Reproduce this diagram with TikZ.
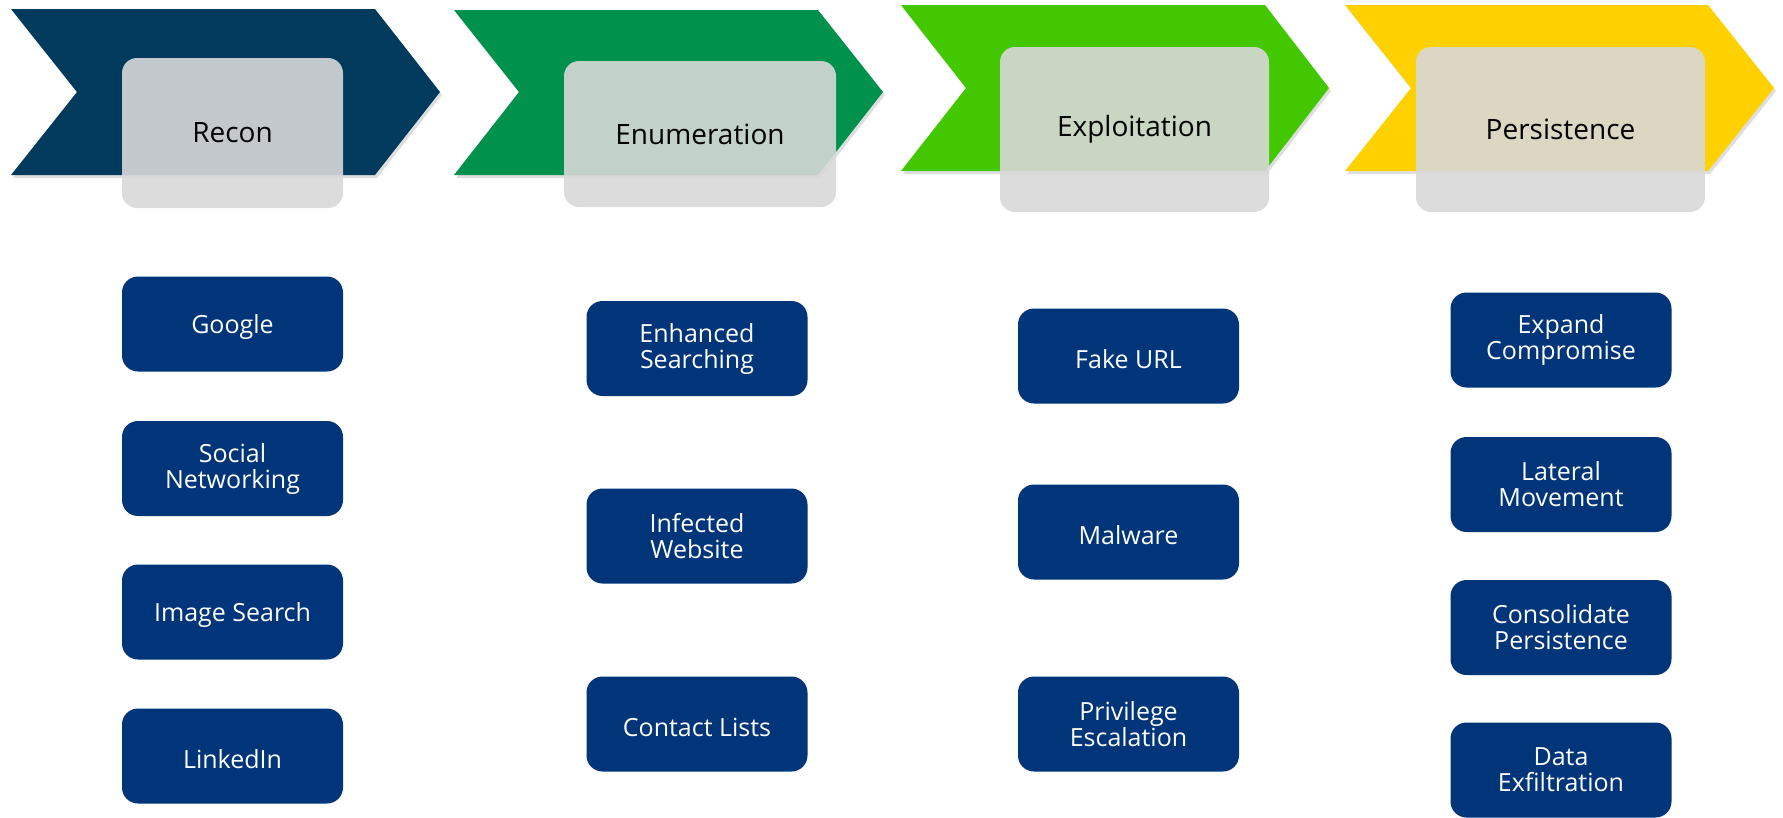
\documentclass[tikz,border=0pt]{standalone}
\usepackage{fontspec}
\setmainfont{Open Sans}
\usetikzlibrary{shadows}
% phase colours
\definecolor{reconC}{RGB}{0,58,92}
\definecolor{enumC}{RGB}{0,145,76}
\definecolor{exploitC}{RGB}{67,200,0}
\definecolor{persistC}{RGB}{255,209,0}
\definecolor{veil}{RGB}{216,216,216}
\definecolor{itemblue}{RGB}{0,53,122}
\begin{document}
\begin{tikzpicture}[x=1pt,y=-1pt,
  phase/.style={fill=#1, drop shadow={shadow xshift=2pt, shadow yshift=-3pt, opacity=0.13, fill=black}},
  phasetitle/.style={fill=veil, fill opacity=0.9, text opacity=1, text=black,
    rounded corners=15pt, inner sep=0pt, font=\fontsize{28}{30}\selectfont},
  item/.style={fill=itemblue, text=white, rounded corners=16pt,
    minimum width=221pt, minimum height=95pt, inner sep=0pt, align=center,
    font=\fontsize{25}{26}\selectfont,
    execute at begin node={\rule{0pt}{25pt}}}]
\useasboundingbox (0,0) rectangle (1783,817);

% chevrons
\path[phase=reconC]    (11,9)  -- (375,9)  -- (440,92)  -- (375,175) -- (11,175)  -- (77,92)  -- cycle;
\path[phase=enumC]     (454,10) -- (818,10) -- (883,92) -- (818,175) -- (454,175) -- (519,92) -- cycle;
\path[phase=exploitC]  (901,5) -- (1265,5) -- (1329,88) -- (1265,171) -- (901,171) -- (966,88) -- cycle;
\path[phase=persistC]  (1345,5) -- (1708,5) -- (1774,88) -- (1708,171) -- (1345,171) -- (1411,88) -- cycle;

% phase titles
\node[phasetitle, minimum width=221pt, minimum height=150pt] (recon)   at (232.5,133)  {Recon};
\node[phasetitle, minimum width=272pt, minimum height=146pt] (enum)    at (700,134)    {Enumeration};
\node[phasetitle, minimum width=269pt, minimum height=165pt] (exploit) at (1134.5,129.5) {Exploitation};
\node[phasetitle, minimum width=289pt, minimum height=165pt] (persist) at (1560.5,129.5) {Persistence};

% Recon steps
\node[item] (google)   at (232.5,324)   {Google};
\node[item] (social)   at (232.5,468.5) {Social\\Networking};
\node[item] (image)    at (232.5,612)   {Image Search};
\node[item] (linkedin) at (232.5,756)   {LinkedIn};

% Enumeration steps
\node[item] (enhanced) at (697,348.5) {Enhanced\\Searching};
\node[item] (infected) at (697,536)   {Infected\\Website};
\node[item] (contacts) at (697,724)   {Contact Lists};

% Exploitation steps
\node[item] (fakeurl)   at (1128.5,356) {Fake URL};
\node[item] (malware)   at (1128.5,532) {Malware};
\node[item] (privilege) at (1128.5,724) {Privilege\\Escalation};

% Persistence steps
\node[item] (expand)      at (1561,340)   {Expand\\Compromise};
\node[item] (lateral)     at (1561,484.5) {Lateral\\Movement};
\node[item] (consolidate) at (1561,627.5) {Consolidate\\Persistence};
\node[item] (exfil)       at (1561,770)   {Data\\Exfiltration};
\end{tikzpicture}
\end{document}
